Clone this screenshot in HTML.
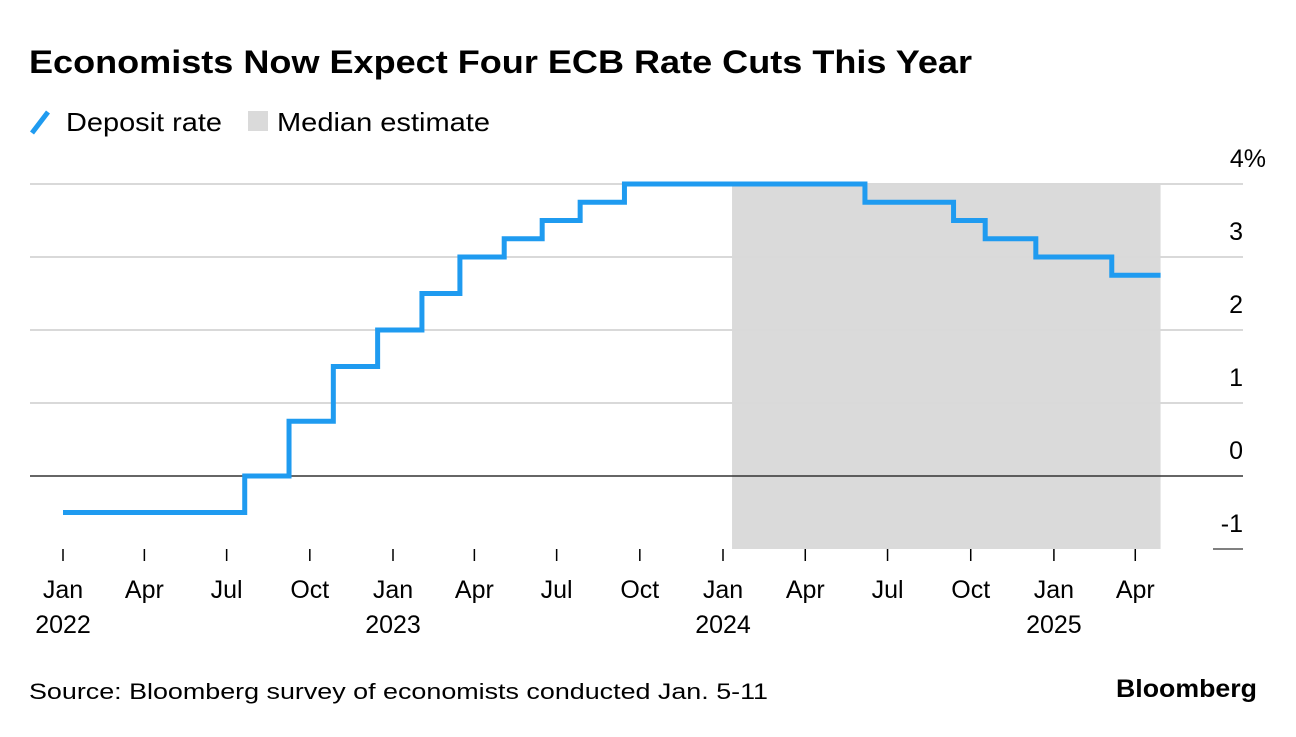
<!DOCTYPE html>
<html><head><meta charset="utf-8">
<style>
body{margin:0;background:#fff;width:1296px;height:732px;overflow:hidden;font-family:"Liberation Sans",sans-serif;}
</style></head>
<body>
<svg width="1296" height="732" xmlns="http://www.w3.org/2000/svg" font-family="Liberation Sans, sans-serif">
<text x="29" y="73" font-size="32" font-weight="bold" fill="#000" textLength="943" lengthAdjust="spacingAndGlyphs">Economists Now Expect Four ECB Rate Cuts This Year</text>
<g>
<line x1="32" y1="133" x2="48" y2="112" stroke="#1f9bf0" stroke-width="5"/>
<text x="66" y="131" font-size="26" fill="#000" textLength="156" lengthAdjust="spacingAndGlyphs">Deposit rate</text>
<rect x="248" y="111" width="20" height="20" fill="#dadada"/>
<text x="277" y="131" font-size="26" fill="#000" textLength="213" lengthAdjust="spacingAndGlyphs">Median estimate</text>
</g>
<g id="plot"></g>
<text x="29" y="699" font-size="22" fill="#000" textLength="739" lengthAdjust="spacingAndGlyphs">Source: Bloomberg survey of economists conducted Jan. 5-11</text>
<text x="1116" y="697" font-size="25" font-weight="bold" fill="#000" textLength="141" lengthAdjust="spacingAndGlyphs">Bloomberg</text>
</svg>
<script>
const stepDates=["2022-01-01","2022-07-21","2022-09-08","2022-10-27","2022-12-15","2023-02-02","2023-03-16","2023-05-04","2023-06-15","2023-07-27","2023-09-14","2024-06-06","2024-09-12","2024-10-17","2024-12-12","2025-03-06"];
const rates=[-0.5,0,0.75,1.5,2.0,2.5,3.0,3.25,3.5,3.75,4.0,3.75,3.5,3.25,3.0,2.75];
const endDate="2025-04-29";
const shadeRange=["2024-01-11","2025-04-29"];
const yTicks=[4,3,2,1,0,-1];
const yTickLabels=["4%","3","2","1","0","-1"];
const xTickMonths=["2022-01","2022-04","2022-07","2022-10","2023-01","2023-04","2023-07","2023-10","2024-01","2024-04","2024-07","2024-10","2025-01","2025-04"];
const xTickLabels=["Jan","Apr","Jul","Oct","Jan","Apr","Jul","Oct","Jan","Apr","Jul","Oct","Jan","Apr"];
const yearLabels={"2022-01":"2022","2023-01":"2023","2024-01":"2024","2025-01":"2025"};

const NS="http://www.w3.org/2000/svg";
const g=document.getElementById('plot');
const t0=Date.UTC(2022,0,1);
function xs(d){const p=d.split('-').map(Number);const t=Date.UTC(p[0],p[1]-1,p[2]||1);return 63+(t-t0)/86400000*(330/365);}
function ys(v){return 476-v*73;}
function mk(tag,attrs){const e=document.createElementNS(NS,tag);for(const k in attrs)e.setAttribute(k,attrs[k]);g.appendChild(e);return e;}

const sh=mk('rect',{x:xs(shadeRange[0]),y:ys(4),width:xs(shadeRange[1])-xs(shadeRange[0]),height:ys(-1)-ys(4),fill:'#dadada'});



yTicks.forEach((v,i)=>{
  const y=ys(v);
  let ln;
  if(v===-1) ln=mk('line',{x1:1213,x2:1243,y1:y,y2:y,stroke:'#000','stroke-width':1});
  else ln=mk('line',{x1:30,x2:1243,y1:y,y2:y,stroke:v===0?'#333':'#d9d9d9','stroke-width':v===0?1.5:2});
  
  
  const tx=mk('text',{x:i===0?1266:1243,y:y-17,'font-size':25,'text-anchor':'end',fill:'#000'});
  tx.textContent=yTickLabels[i];
  
  
});

xTickMonths.forEach((m,i)=>{
  const x=xs(m);
  const tk=mk('line',{x1:x,x2:x,y1:549,y2:561,stroke:'#000','stroke-width':1.5});
  
  
  const tx=mk('text',{x:x,y:598,'font-size':25,'text-anchor':'middle',fill:'#000'});
  tx.textContent=xTickLabels[i];
  
  
  if(yearLabels[m]){
    const yt=mk('text',{x:x,y:633,'font-size':25,'text-anchor':'middle',fill:'#000'});
    yt.textContent=yearLabels[m];
    
    
  }
});

let d='';
rates.forEach((r,i)=>{
  const x=xs(stepDates[i]);
  if(i===0) d+='M'+x+','+ys(r);
  else d+=' H'+x+' V'+ys(r);
});
d+=' H'+xs(endDate);
const p=mk('path',{d:d,fill:'none',stroke:'#1f9bf0','stroke-width':5,'stroke-linejoin':'miter'});


</script>
</body></html>
